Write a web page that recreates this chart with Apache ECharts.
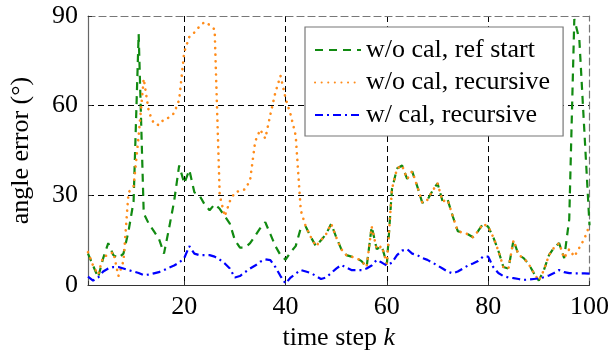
<!DOCTYPE html>
<html>
<head>
<meta charset="utf-8">
<script src="https://cdn.jsdelivr.net/npm/echarts@6/dist/echarts.min.js"></script>
<style>
  html, body { margin: 0; padding: 0; background: #fff; }
  #chart { width: 612px; height: 356px; }
</style>
</head>
<body>
<div id="chart"></div>
<script>
// time steps k = 1..100
const steps = [
  1, 2, 3, 4, 5, 6, 7, 8, 9, 10, 11, 12, 13, 14, 15, 16, 17, 18, 19, 20,
  21, 22, 23, 24, 25, 26, 27, 28, 29, 30, 31, 32, 33, 34, 35, 36, 37, 38, 39, 40,
  41, 42, 43, 44, 45, 46, 47, 48, 49, 50, 51, 52, 53, 54, 55, 56, 57, 58, 59, 60,
  61, 62, 63, 64, 65, 66, 67, 68, 69, 70, 71, 72, 73, 74, 75, 76, 77, 78, 79, 80,
  81, 82, 83, 84, 85, 86, 87, 88, 89, 90, 91, 92, 93, 94, 95, 96, 97, 98, 99, 100
];

// w/o cal, ref start
const refStart = [
  10.5, 6.5, 2.5, 9, 14, 10, 9, 10.5, 18, 28,
  84, 24, 20.5, 18, 15.5, 10.5, 19, 28, 40, 34,
  38.5, 31, 30, 27, 25, 27, 25.5, 23, 20.5, 15,
  12.5, 12.5, 14, 16.5, 19, 21, 17, 13, 10, 8.5,
  11, 13, 19, 19.5, 16, 13, 15, 17, 20.5, 16,
  12, 10, 9.5, 9, 8, 6, 19.5, 12, 13, 7,
  32, 39, 40, 35.5, 38, 33, 27.5, 28.5, 31.5, 34,
  28, 28.5, 23, 18, 17.5, 17, 16, 18, 20.5, 19.5,
  16, 11.5, 6, 5.5, 15, 10, 9, 7, 4, 1.5,
  5, 10, 12.5, 14, 9, 22, 89, 82, 51, 20
];

// w/o cal, recursive
const recursive = [
  11, 6.5, 3.5, 9.5, 10, 11, 3, 8, 31, 33,
  50, 69, 58, 54, 53.5, 55.5, 56, 57.5, 62, 78,
  83, 84.5, 86.5, 88, 87, 85.5, 30, 23, 28, 31,
  31.5, 32, 35, 48, 52, 49, 57, 64.5, 70, 62.5,
  57, 50, 25, 19.5, 16, 13, 15, 17, 20.5, 16,
  12, 10, 9.5, 9, 8, 6, 19.5, 12, 13, 7,
  32, 39, 40, 35.5, 38, 33, 27.5, 28.5, 31.5, 34,
  28, 28.5, 23, 18, 17.5, 17, 16, 18, 20.5, 19.5,
  16, 11.5, 6, 5.5, 15, 10, 9, 7, 4, 1.5,
  5, 10, 12.5, 14, 9, 12, 9.5, 12.5, 15.5, 20
];

// w/ cal, recursive
const calRecursive = [
  2.8, 1.5, 2.5, 4.5, 5.5, 6, 6, 5.5, 5, 4.5,
  4, 3.3, 3.5, 3.9, 4.3, 5, 5.8, 6.5, 7.5, 9,
  13, 10.5, 10, 10, 10, 9.5, 8.5, 7.2, 5.5, 2.5,
  3, 4.3, 5.5, 6.5, 7.8, 8.6, 8.3, 6, 3, 0.5,
  2.5, 3.8, 5, 4.5, 4, 3, 2, 2.5, 4, 5.5,
  6.7, 5.8, 5, 5, 5, 5.5, 6.5, 8.4, 7.5, 6.5,
  7.5, 10, 11.5, 12, 10.5, 10, 9, 8.4, 7.5, 6.5,
  5.5, 4.5, 3.9, 4.5, 5.5, 6.5, 7.2, 8, 9.5, 9.5,
  6, 4, 3, 2.5, 2.3, 2, 1.7, 1.8, 2, 2.2,
  2.6, 3.2, 4, 5, 4.3, 4, 3.9, 3.9, 3.9, 3.8
];

const seriesNames = ['w/o cal, ref start', 'w/o cal, recursive', 'w/ cal, recursive'];
const yTicks = [0, 30, 60, 90];

const FONT = 'Liberation Serif';
const pairs = vals => steps.map((k, i) => [k, vals[i]]);

const chart = echarts.init(document.getElementById('chart'), null, { renderer: 'canvas' });

const gridDash = { color: '#000', width: 1, type: [6, 4] };
const borderDash = { color: '#777', width: 1.2, type: [7, 4] };

const option = {
  backgroundColor: '#fff',
  animation: false,
  grid: { left: 88, right: 20, top: 16, bottom: 71, containLabel: false },
  legend: {
    orient: 'vertical',
    left: 305,
    top: 27,
    padding: [10, 13, 8, 9],
    itemGap: 6.5,
    itemWidth: 46,
    itemHeight: 14,
    backgroundColor: '#fff',
    borderColor: '#777',
    borderWidth: 1.2,
    borderRadius: 0,
    // hide the symbol drawn on top of each legend line
    itemStyle: { opacity: 0 },
    textStyle: { fontFamily: FONT, fontSize: 26, color: '#000' },
    data: seriesNames
  },
  xAxis: [
    {
      type: 'value',
      min: 1,
      max: 100,
      splitNumber: 5,
      name: '{n|time step }{k|k}',
      nameLocation: 'middle',
      nameGap: 40,
      nameTextStyle: {
        rich: {
          n: { fontFamily: FONT, fontSize: 26, color: '#000' },
          k: { fontFamily: FONT, fontSize: 26, fontStyle: 'italic', color: '#000' }
        }
      },
      axisLine: { lineStyle: { color: '#333', width: 1.2 } },
      axisTick: { inside: true, length: 4, lineStyle: { color: '#333' } },
      axisLabel: {
        margin: 9,
        fontFamily: FONT,
        fontSize: 26,
        color: '#000',
        formatter: v => (v % 20 === 0 ? String(v) : '')
      },
      splitLine: { show: true, showMinLine: false, showMaxLine: false, lineStyle: gridDash }
    },
    {
      type: 'value',
      position: 'top',
      min: 1,
      max: 100,
      splitNumber: 5,
      axisLine: { onZero: false, lineStyle: borderDash },
      axisTick: { show: false },
      axisLabel: { show: false },
      splitLine: { show: false }
    }
  ],
  yAxis: [
    {
      type: 'value',
      min: yTicks[0],
      max: yTicks[yTicks.length - 1],
      interval: 30,
      name: 'angle error (°)',
      nameLocation: 'middle',
      nameRotate: 90,
      nameGap: 54,
      nameTextStyle: { fontFamily: FONT, fontSize: 26, color: '#000' },
      axisLine: { show: true, lineStyle: { color: '#666', width: 1.2 } },
      axisTick: { show: true, inside: true, length: 4, lineStyle: { color: '#333' } },
      axisLabel: { margin: 10, fontFamily: FONT, fontSize: 26, color: '#000' },
      splitLine: { show: true, showMinLine: false, showMaxLine: false, lineStyle: gridDash }
    },
    {
      type: 'value',
      position: 'right',
      min: 0,
      max: 90,
      interval: 30,
      axisLine: { show: true, onZero: false, lineStyle: borderDash },
      axisTick: { show: false },
      axisLabel: { show: false },
      splitLine: { show: false }
    }
  ],
  series: [
    {
      name: seriesNames[0],
      type: 'line',
      symbol: 'none',
      data: pairs(refStart),
      lineStyle: { color: '#118a11', width: 2.2, type: [8, 6] },
      itemStyle: { color: '#118a11' },
      z: 2
    },
    {
      name: seriesNames[1],
      type: 'line',
      symbol: 'none',
      data: pairs(recursive),
      lineStyle: { color: '#ff8c1a', width: 2.6, type: [0.1, 6.5], cap: 'round' },
      itemStyle: { color: '#ff8c1a' },
      z: 3
    },
    {
      name: seriesNames[2],
      type: 'line',
      symbol: 'none',
      data: pairs(calRecursive),
      lineStyle: { color: '#0000ff', width: 2.2, type: [8, 4, 2, 4] },
      itemStyle: { color: '#0000ff' },
      z: 4
    }
  ]
};

chart.setOption(option);
</script>
</body>
</html>
